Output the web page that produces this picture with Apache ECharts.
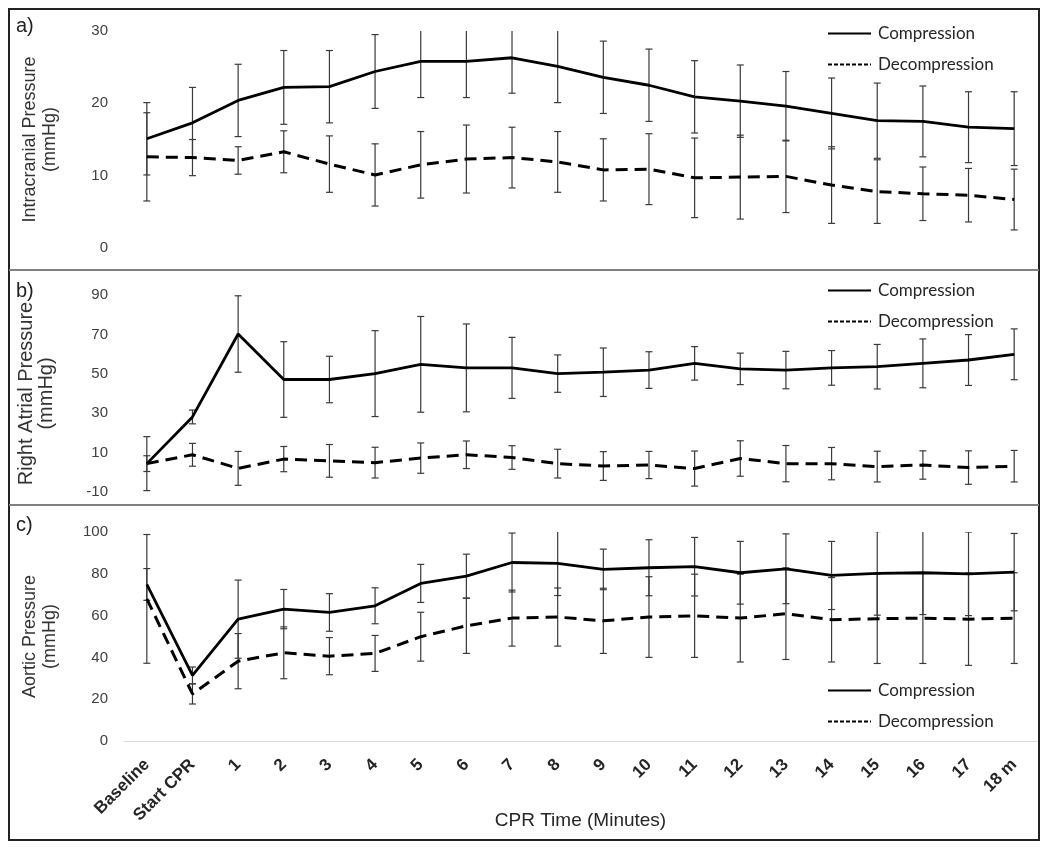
<!DOCTYPE html>
<html>
<head>
<meta charset="utf-8">
<script src="https://cdn.jsdelivr.net/npm/echarts@6/dist/echarts.min.js"></script>
<style>
  html, body { margin: 0; padding: 0; background: #fff; }
  #chart { width: 1050px; height: 851px; }
</style>
</head>
<body>
<div id="chart"></div>
<script>
// ---- Data ----
const categories = ['Baseline', 'Start CPR', '1', '2', '3', '4', '5', '6', '7', '8', '9',
  '10', '11', '12', '13', '14', '15', '16', '17', '18 m'];

// a) Intracranial pressure (mmHg)
const icpComp      = [15.1, 17.3, 20.4, 22.2, 22.3, 24.4, 25.8, 25.8, 26.3, 25.1, 23.6, 22.5, 20.9, 20.3, 19.6, 18.6, 17.6, 17.5, 16.7, 16.5];
const icpCompSd    = [5.0, 4.9, 5.0, 5.1, 5.0, 5.1, 5.0, 5.0, 4.9, 5.0, 5.0, 5.0, 5.0, 5.0, 4.8, 4.9, 5.2, 4.9, 4.9, 5.1];
const icpDecomp    = [12.6, 12.5, 12.1, 13.3, 11.6, 10.1, 11.5, 12.3, 12.5, 11.9, 10.8, 10.9, 9.7, 9.8, 9.9, 8.7, 7.8, 7.5, 7.3, 6.7];
const icpDecompSd  = [6.1, 2.5, 1.9, 2.9, 3.9, 4.3, 4.6, 4.7, 4.2, 4.2, 4.3, 4.9, 5.5, 5.8, 5.0, 5.3, 4.4, 3.7, 3.7, 4.2];

// b) Right atrial pressure (mmHg)
const rapComp      = [4.4, 28.1, 70.2, 47.1, 47.1, 50.1, 54.8, 53.0, 53.0, 50.1, 50.8, 51.9, 55.3, 52.5, 51.9, 53.0, 53.6, 55.3, 57.0, 59.9];
const rapCompSd    = [13.7, 3.5, 19.4, 19.2, 11.8, 21.8, 24.3, 22.3, 15.5, 9.5, 12.3, 9.3, 8.5, 8.0, 9.5, 8.8, 11.3, 12.4, 12.9, 12.9];
const rapDecomp    = [4.4, 8.9, 2.0, 6.7, 5.8, 4.9, 7.2, 8.9, 7.5, 4.4, 3.2, 3.7, 1.9, 7.0, 4.4, 4.4, 2.9, 3.7, 2.4, 3.1];
const rapDecompSd  = [4.0, 5.8, 8.6, 6.4, 8.3, 7.8, 7.7, 7.0, 6.0, 7.3, 7.3, 6.9, 8.9, 9.0, 9.2, 8.2, 7.8, 7.2, 8.5, 8.0];

// c) Aortic pressure (mmHg)
const aoComp       = [74.9, 31.4, 58.3, 63.1, 61.5, 64.7, 75.4, 78.9, 85.4, 85.0, 82.1, 82.9, 83.4, 80.5, 82.4, 79.2, 80.2, 80.5, 80.0, 80.8];
const aoCompSd     = [7.6, 4.0, 18.7, 9.4, 9.0, 8.6, 9.1, 10.5, 14.1, 15.4, 9.7, 13.4, 14.0, 15.0, 16.7, 16.3, 20.0, 20.0, 20.0, 18.5];
const aoDecomp     = [68.0, 22.5, 38.2, 42.2, 40.6, 41.9, 49.9, 55.1, 58.8, 59.3, 57.5, 59.3, 59.9, 58.8, 60.9, 58.0, 58.5, 58.8, 58.3, 58.8];
const aoDecompSd   = [30.8, 4.8, 13.2, 12.4, 8.9, 8.6, 11.7, 13.2, 13.4, 13.9, 15.6, 19.3, 19.9, 21.0, 21.9, 20.2, 21.4, 21.7, 22.1, 21.7];

// Axis tick settings
const yRanges = [
  { min: 0, max: 30, interval: 10 },
  { min: -10, max: 90, interval: 20 },
  { min: 0, max: 100, interval: 20 }
];
const yTitles = ['Intracranial Pressure\n(mmHg)', 'Right Atrial Pressure\n(mmHg)', 'Aortic Pressure\n(mmHg)'];
const xTitle = 'CPR Time (Minutes)';
const seriesNames = ['Compression', 'Decompression'];

// ---- Chart ----
const chart = echarts.init(document.getElementById('chart'), null, { renderer: 'canvas' });

const grids = [
  { left: 124, right: 13, top: 31, height: 217 },
  { left: 124, right: 13, top: 295, height: 197 },
  { left: 124, right: 13, top: 532, height: 209 }
].map(g => Object.assign({ outerBoundsMode: 'none', containLabel: false }, g));

const xAxes = [0, 1, 2].map(i => ({
  type: 'category',
  gridIndex: i,
  data: categories,
  boundaryGap: true,
  axisTick: { show: false },
  axisLine: { show: i === 2, lineStyle: { color: '#d9d9d9', width: 1 } },
  axisLabel: i === 2 ? {
    show: true, rotate: 45, interval: 0, margin: 21,
    fontFamily: 'Liberation Sans, Arial, sans-serif', fontWeight: 'bold', fontSize: 17, color: '#262626'
  } : { show: false },
  splitLine: { show: false },
  name: i === 2 ? xTitle : '',
  nameLocation: 'middle',
  nameGap: 70,
  nameMoveOverlap: false,
  nameTextStyle: { fontFamily: 'Liberation Sans, Arial, sans-serif', fontSize: 19, color: '#262626' }
}));

const yAxes = [0, 1, 2].map(i => ({
  type: 'value',
  gridIndex: i,
  min: yRanges[i].min, max: yRanges[i].max, interval: yRanges[i].interval,
  axisLine: { show: false },
  axisTick: { show: false },
  splitLine: { show: false },
  axisLabel: { fontFamily: 'Liberation Sans, Arial, sans-serif', fontSize: 15, color: '#404040', margin: 16 },
  name: yTitles[i],
  nameLocation: 'middle',
  nameRotate: 90,
  nameGap: i === 1 ? 68 : 64,
  nameMoveOverlap: false,
  nameTextStyle: {
    fontFamily: 'Liberation Sans, Arial, sans-serif',
    fontSize: i === 1 ? 20 : 18,
    lineHeight: 20,
    color: '#333', align: 'center'
  }
}));

function lineSeries(idx, name, data) {
  const dashed = name === 'Decompression';
  return {
    type: 'line', name: name, xAxisIndex: idx, yAxisIndex: idx,
    data: data, symbol: 'none', smooth: false, z: 3, silent: true,
    lineStyle: { color: '#000', width: dashed ? 3 : 2.8, type: dashed ? [12, 7] : 'solid' },
    itemStyle: { color: '#000' }
  };
}

function errSeries(idx, means, sds) {
  return {
    type: 'custom', xAxisIndex: idx, yAxisIndex: idx, clip: true, silent: true, z: 2,
    data: means.map((m, i) => [i, m - sds[i], m + sds[i]]),
    encode: { x: 0, y: [1, 2] },
    renderItem: function (params, api) {
      const x = api.value(0);
      const lo = api.coord([x, api.value(1)]);
      const hi = api.coord([x, api.value(2)]);
      const hw = 3.5;
      const st = { stroke: '#3a3a3a', lineWidth: 1.2 };
      return {
        type: 'group',
        children: [
          { type: 'line', shape: { x1: lo[0], y1: lo[1], x2: hi[0], y2: hi[1] }, style: st },
          { type: 'line', shape: { x1: lo[0] - hw, y1: lo[1], x2: lo[0] + hw, y2: lo[1] }, style: st },
          { type: 'line', shape: { x1: hi[0] - hw, y1: hi[1], x2: hi[0] + hw, y2: hi[1] }, style: st }
        ]
      };
    }
  };
}

const series = [
  errSeries(0, icpComp, icpCompSd), errSeries(0, icpDecomp, icpDecompSd),
  lineSeries(0, seriesNames[0], icpComp), lineSeries(0, seriesNames[1], icpDecomp),
  errSeries(1, rapComp, rapCompSd), errSeries(1, rapDecomp, rapDecompSd),
  lineSeries(1, seriesNames[0], rapComp), lineSeries(1, seriesNames[1], rapDecomp),
  errSeries(2, aoComp, aoCompSd), errSeries(2, aoDecomp, aoDecompSd),
  lineSeries(2, seriesNames[0], aoComp), lineSeries(2, seriesNames[1], aoDecomp)
];

const legendTops = [20, 277, 677];
const legends = legendTops.map(t => ({
  orient: 'vertical', left: 822, top: t,
  itemWidth: 43, itemHeight: 14, itemGap: 14,
  selectedMode: false,
  itemStyle: { opacity: 0 },
  data: [
    { name: seriesNames[0], lineStyle: { width: 2, type: 'solid', color: '#000' }, itemStyle: { opacity: 0 } },
    { name: seriesNames[1], lineStyle: { width: 2, type: [4, 2], color: '#000' }, itemStyle: { opacity: 0 } }
  ],
  textStyle: { fontFamily: 'Lato, Carlito, sans-serif', fontSize: 17, color: '#262626', padding: [0, 0, 0, 2] }
}));

const panelLabels = [['a)', 16], ['b)', 281], ['c)', 515]];

chart.setOption({
  animation: false,
  backgroundColor: '#fff',
  grid: grids,
  xAxis: xAxes,
  yAxis: yAxes,
  legend: legends,
  series: series,
  graphic: [
    { type: 'rect', shape: { x: 9, y: 9, width: 1030, height: 831 }, style: { fill: 'none', stroke: '#222', lineWidth: 2 }, silent: true },
    { type: 'line', shape: { x1: 9, y1: 270, x2: 1039, y2: 270 }, style: { stroke: '#808080', lineWidth: 2 }, silent: true },
    { type: 'line', shape: { x1: 9, y1: 505, x2: 1039, y2: 505 }, style: { stroke: '#808080', lineWidth: 2 }, silent: true }
  ].concat(panelLabels.map(p => ({
    type: 'text', left: 16, top: p[1], silent: true,
    style: { text: p[0], font: '20px "Liberation Sans", Arial, sans-serif', fill: '#222' }
  })))
});
</script>
</body>
</html>
